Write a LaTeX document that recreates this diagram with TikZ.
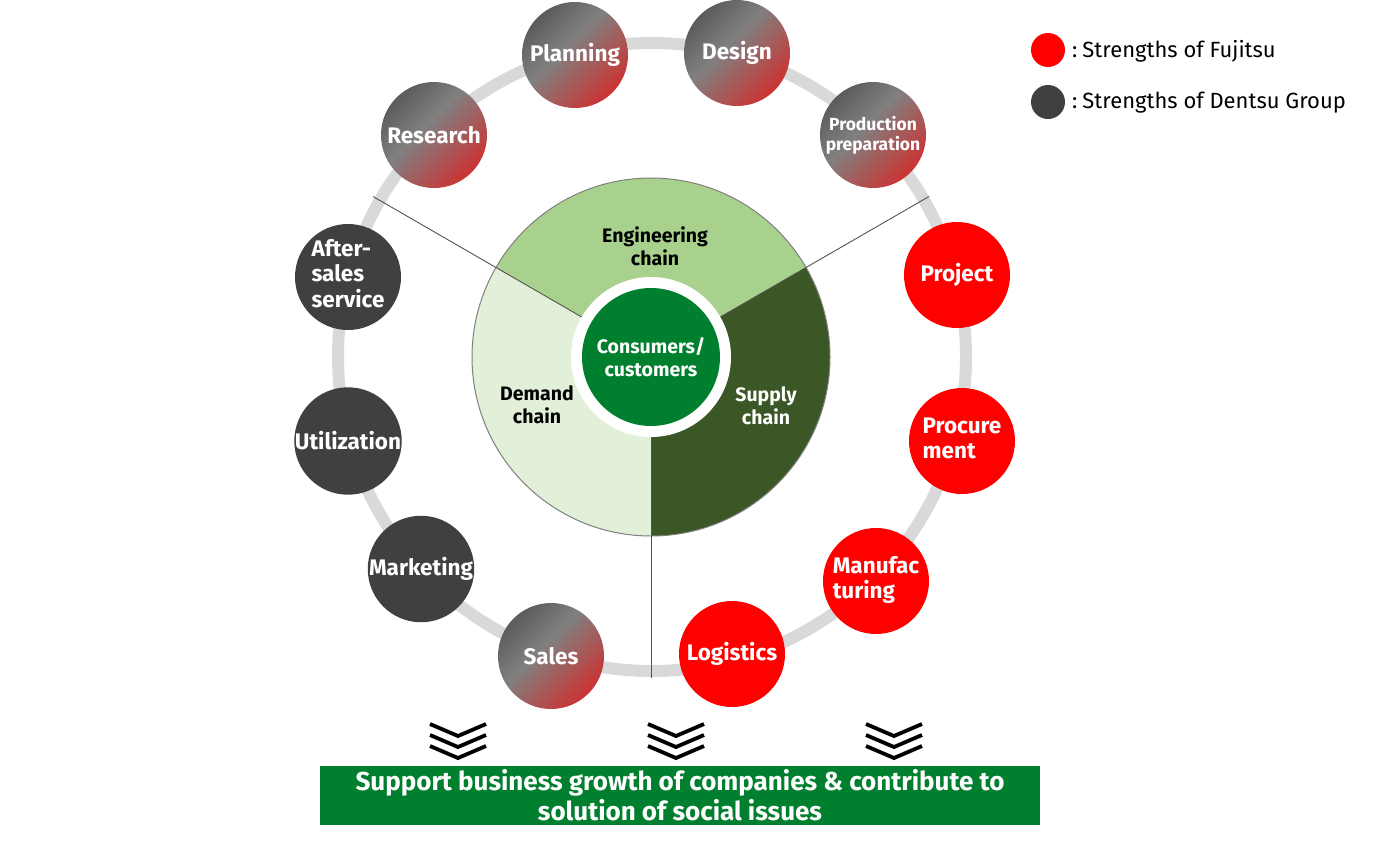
\documentclass[tikz,border=0pt]{standalone}
\usepackage{fontspec}
\setmainfont{Fira Sans}
\usetikzlibrary{calc}
\definecolor{ringgray}{HTML}{D9D9D9}
\definecolor{dgray}{HTML}{404040}
\definecolor{fred}{HTML}{FF0000}
\definecolor{cgreen}{HTML}{00802F}
\definecolor{enggreen}{HTML}{A9D18E}
\definecolor{demgreen}{HTML}{E2F0D9}
\definecolor{supgreen}{HTML}{3A5725}
\definecolor{pieline}{HTML}{7F7F7F}
\definecolor{gs1}{HTML}{525252}
\definecolor{gs2}{HTML}{808080}
\definecolor{gs3}{HTML}{E31C1C}
\pgfdeclarehorizontalshading{grayred}{100bp}{color(0bp)=(gs1); color(20bp)=(gs1); color(44bp)=(gs2); color(84bp)=(gs3); color(100bp)=(gs3)}
\begin{document}
\begin{tikzpicture}[x=1pt,y=-1pt,
  stage/.style={circle, minimum size=106pt, inner sep=0pt, text=white, align=center,
    font=\bfseries\fontsize{22.5}{25}\selectfont},
  fuj/.style={stage, fill=fred},
  den/.style={stage, fill=dgray},
  mix/.style={stage, shade, shading=grayred, shading angle=-45},
  chain/.style={align=center, font=\bfseries\fontsize{19.5}{23}\selectfont},
  divider/.style={draw=dgray!90, line width=0.9pt},
  chev/.style={line width=3.8pt, miter limit=10},
  legtext/.style={anchor=west, font=\fontsize{22}{24}\selectfont, inner sep=0pt}]
\useasboundingbox (0,0) rectangle (1377,841);

% ring
\draw[ringgray, line width=12pt] (652,357) circle[radius=314];

% pie sectors
\coordinate (pc) at (651,357);
\fill[enggreen] (pc) -- ++(-30:179) arc[start angle=-30, end angle=-150, radius=179] -- cycle;
\fill[demgreen] (pc) -- ++(-150:179) arc[start angle=-150, end angle=-270, radius=179] -- cycle;
\fill[supgreen] (pc) -- ++(90:179) arc[start angle=90, end angle=-30, radius=179] -- cycle;
\draw[pieline, line width=1pt] (pc) circle[radius=179];

% dividers
\node[circle, minimum size=160pt, inner sep=0pt] (wc) at (pc) {};
\coordinate (d1) at ($(pc)+(-150:321)$);
\coordinate (d2) at ($(pc)+(-30:321)$);
\coordinate (d3) at ($(pc)+(90:321)$);
\draw[divider] (wc.center) -- (d1);
\draw[divider] (wc.center) -- (d2);
\draw[divider] (wc.center) -- (d3);

% centre
\fill[white] (pc) circle[radius=80];
\node[circle, fill=cgreen, minimum size=138pt, inner sep=0pt, text=white, align=center,
  font=\bfseries\fontsize{19.5}{23}\selectfont] (cc) at (pc) {Consumers/\\customers};

\node[chain] (eng) at (655,246) {Engineering\\chain};
\node[chain] (dem) at (537,405) {Demand\\chain};
\node[chain, text=white] (sup) at (766,406) {Supply\\chain};

% stage circles
\node[mix] (plan) at (575,55) {Planning};
\node[mix] (des) at (737,53) {Design};
\node[mix, font=\bfseries\fontsize{17.5}{20}\selectfont] (prep) at (873,135) {Production\\preparation};
\node[mix] (res) at (434,135) {Research};
\node[den] (after) at (348,277) {\begin{tabular}{@{}l@{}}After-\\sales\\service\end{tabular}};
\node[den] (util) at (348,441) {Utilization};
\node[den] (mkt) at (421,569) {Marketing};
\node[mix] (sales) at (551,656) {Sales};
\node[fuj] (log) at (732,654) {Logistics};
\node[fuj] (man) at (876,581) {\begin{tabular}{@{}l@{}}Manufac\\turing\end{tabular}};
\node[fuj] (proc) at (962,441) {\begin{tabular}{@{}l@{}}Procure\\ment\end{tabular}};
\node[fuj] (proj) at (957,275) {Project};

% legend
\node[circle, fill=fred, minimum size=34pt, inner sep=0pt] (lf) at (1048,50) {};
\node[circle, fill=dgray, minimum size=34pt, inner sep=0pt] (ld) at (1048,102) {};
\node[legtext] (lft) at (1072,51) {:\hspace{5pt}Strengths of Fujitsu};
\node[legtext] (ldt) at (1072,103) {:\hspace{5pt}Strengths of Dentsu Group};

% chevrons
\foreach \cx in {458,676,894}{
  \foreach \ty in {736,747,758}{
    \draw[chev] (\cx-28,\ty-12) -- (\cx,\ty) -- (\cx+28,\ty-12);
  }
}

% bottom banner
\node[fill=cgreen, minimum width=720pt, minimum height=59pt, inner sep=0pt, text=white, align=center,
  font=\bfseries\fontsize{26}{30}\selectfont] (goal) at (680,795.5)
  {Support business growth of companies \& contribute to\\solution of social issues};
\end{tikzpicture}
\end{document}
